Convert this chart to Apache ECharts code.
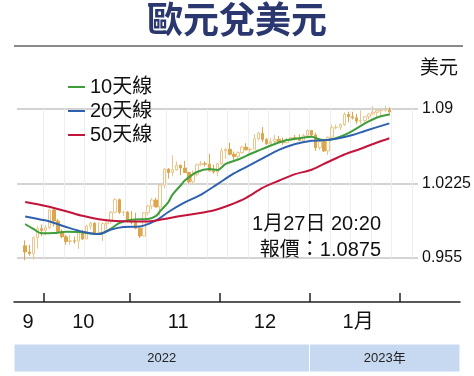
<!DOCTYPE html>
<html>
<head>
<meta charset="utf-8">
<script src="https://cdn.jsdelivr.net/npm/echarts@6/dist/echarts.min.js"></script>
<style>
  html, body { margin: 0; padding: 0; background: #fff; }
  #main { width: 474px; height: 376px; }
</style>
</head>
<body>
<div id="main"></div>
<script>
// 交易日（2022-09-26 ~ 2023-01-27）
const dates = [
  '09-26','09-27','09-28','09-29','09-30',
  '10-03','10-04','10-05','10-06','10-07','10-10','10-11','10-12','10-13','10-14',
  '10-17','10-18','10-19','10-20','10-21','10-24','10-25','10-26','10-27','10-28','10-31',
  '11-01','11-02','11-03','11-04','11-07','11-08','11-09','11-10','11-11','11-14','11-15',
  '11-16','11-17','11-18','11-21','11-22','11-23','11-24','11-25','11-28','11-29','11-30',
  '12-01','12-02','12-05','12-06','12-07','12-08','12-09','12-12','12-13','12-14','12-15',
  '12-16','12-19','12-20','12-21','12-22','12-23','12-26','12-27','12-28','12-29','12-30',
  '01-02','01-03','01-04','01-05','01-06','01-09','01-10','01-11','01-12','01-13',
  '01-16','01-17','01-18','01-19','01-20','01-23','01-24','01-25','01-26','01-27'
];
const opens = [
  0.9660,0.9605,0.9590,0.9735,0.9815,
  0.9800,0.9825,0.9985,0.9885,0.9790,0.9742,0.9700,0.9706,0.9703,0.9779,
  0.9722,0.9838,0.9865,0.9772,0.9781,0.9861,0.9878,0.9964,1.0078,0.9964,0.9966,
  0.9882,0.9875,0.9820,0.9750,0.9960,1.0020,1.0075,1.0012,1.0210,1.0355,1.0325,
  1.0350,1.0390,1.0365,1.0325,1.0240,1.0305,1.0395,1.0405,1.0400,1.0340,1.0330,
  1.0405,1.0520,1.0535,1.0490,1.0470,1.0505,1.0555,1.0530,1.0535,1.0630,1.0680,
  1.0625,1.0585,1.0605,1.0625,1.0605,1.0595,1.0615,1.0640,1.0638,1.0615,1.0660,
  1.0705,1.0665,1.0550,1.0605,1.0520,1.0645,1.0730,1.0735,1.0760,1.0850,
  1.0830,1.0820,1.0790,1.0795,1.0830,1.0855,1.0870,1.0885,1.0890,1.0890
];
const highs = [
  0.9710,0.9670,0.9748,0.9837,0.9854,
  0.9850,0.9999,0.9998,0.9905,0.9810,0.9760,0.9760,0.9745,0.9809,0.9806,
  0.9852,0.9875,0.9875,0.9875,0.9872,0.9905,0.9976,1.0093,1.0088,0.9980,0.9975,
  0.9975,0.9960,0.9830,0.9966,1.0033,1.0095,1.0095,1.0222,1.0365,1.0365,1.0481,
  1.0425,1.0395,1.0430,1.0330,1.0345,1.0405,1.0430,1.0425,1.0495,1.0395,1.0410,
  1.0545,1.0545,1.0595,1.0515,1.0515,1.0565,1.0590,1.0550,1.0673,1.0695,1.0736,
  1.0635,1.0640,1.0665,1.0655,1.0640,1.0640,1.0645,1.0665,1.0670,1.0675,1.0715,
  1.0710,1.0685,1.0635,1.0620,1.0650,1.0760,1.0760,1.0770,1.0870,1.0875,
  1.0875,1.0855,1.0887,1.0835,1.0860,1.0925,1.0890,1.0905,1.0930,1.0915
];
const lows = [
  0.9530,0.9570,0.9536,0.9635,0.9749,
  0.9755,0.9810,0.9835,0.9785,0.9730,0.9670,0.9670,0.9680,0.9632,0.9712,
  0.9720,0.9808,0.9760,0.9760,0.9705,0.9808,0.9862,0.9958,0.9950,0.9930,0.9870,
  0.9855,0.9810,0.9730,0.9747,0.9935,0.9990,1.0010,0.9935,1.0180,1.0270,1.0290,
  1.0340,1.0300,1.0320,1.0225,1.0230,1.0290,1.0385,1.0380,1.0335,1.0315,1.0290,
  1.0395,1.0450,1.0480,1.0440,1.0445,1.0495,1.0525,1.0505,1.0535,1.0615,1.0600,
  1.0575,1.0580,1.0570,1.0600,1.0575,1.0590,1.0610,1.0615,1.0610,1.0615,1.0655,
  1.0650,1.0520,1.0530,1.0510,1.0484,1.0640,1.0715,1.0710,1.0745,1.0780,
  1.0805,1.0765,1.0765,1.0780,1.0805,1.0850,1.0830,1.0835,1.0875,1.0840
];
const closes = [
  0.9605,0.9590,0.9735,0.9815,0.9800,
  0.9825,0.9985,0.9885,0.9790,0.9742,0.9700,0.9706,0.9703,0.9779,0.9722,
  0.9838,0.9865,0.9772,0.9781,0.9861,0.9878,0.9964,1.0078,0.9964,0.9966,0.9882,
  0.9875,0.9820,0.9750,0.9960,1.0020,1.0075,1.0012,1.0210,1.0355,1.0325,1.0350,
  1.0390,1.0365,1.0325,1.0240,1.0305,1.0395,1.0405,1.0400,1.0340,1.0330,1.0405,
  1.0520,1.0535,1.0490,1.0470,1.0505,1.0555,1.0530,1.0535,1.0630,1.0680,1.0625,
  1.0585,1.0605,1.0625,1.0605,1.0595,1.0615,1.0640,1.0638,1.0615,1.0660,1.0705,
  1.0665,1.0550,1.0605,1.0520,1.0645,1.0730,1.0735,1.0760,1.0850,1.0830,
  1.0820,1.0790,1.0795,1.0830,1.0855,1.0870,1.0885,1.0890,1.0890,1.0875
];

// 移動平均線（交易日序號, 數值）
const ma10Day = [0,2,4,7,10,13,16,18,21,23,26,30,32,33,35,36,38,39,42,45,47,49,52,55,57,61,64,67,70,72,74,77,80,83,86,89];
const ma10 = [0.9858,0.9813,0.9774,0.9776,0.9788,0.9786,0.9772,0.9767,0.9817,0.9867,0.9897,0.9903,0.9931,0.9976,1.0057,1.0125,1.0207,1.0252,1.0329,1.0356,1.0347,1.0402,1.0442,1.0492,1.0524,1.0583,1.0619,1.0635,1.0649,1.0624,1.0619,1.0649,1.0702,1.0769,1.0823,1.0850];
const ma20Day = [0,4,6,10,14,18,21,24,28,32,35,39,43,47,51,55,58,62,66,70,73,76,80,83,89];
const ma20 = [0.9926,0.9897,0.9881,0.9831,0.9788,0.9767,0.9808,0.9831,0.9835,0.9890,0.9967,1.0053,1.0125,1.0220,1.0316,1.0393,1.0452,1.0529,1.0583,1.0612,1.0617,1.0631,1.0664,1.0701,1.0770];
const ma50Day = [0,5,10,14,18,22,26,30,34,38,42,46,50,54,58,62,66,70,74,78,82,86,89];
const ma50 = [1.0057,1.0021,0.9974,0.9932,0.9901,0.9885,0.9881,0.9881,0.9903,0.9931,0.9953,0.9980,1.0030,1.0095,1.0185,1.0250,1.0310,1.0350,1.0420,1.0488,1.0540,1.0596,1.0635];

const priceTicks = [0.955, 1.0225, 1.09];
const priceLabels = ['0.955', '1.0225', '1.09'];
const monthEdges = [4.5, 25.5, 47.5, 69.5, 91.5];     // 月份分界
const monthLabelAt = [0.7, 14.2, 37.4, 58.6, 81.4];
const monthLabels = ['9', '10', '11', '12', '1月'];
const years = ['2022', '2023年'];
const yearEdges = [-2.75, 69.5, 106.3];

const weekEdges = [];
for (let k = 4.5; k < 96; k += 5) weekEdges.push(k);

const FONT = "'Liberation Sans','Noto Sans CJK TC',sans-serif";
const chart = echarts.init(document.getElementById('main'));

const candles = dates.map((d, i) => [i, opens[i], closes[i], lows[i], highs[i]]);
const pairs = (xs, ys) => xs.map((x, i) => [x, ys[i]]);

const option = {
  animation: false,
  textStyle: { fontFamily: FONT },
  title: {
    text: '歐元兌美元',
    left: 'center',
    top: -4,
    textStyle: { fontSize: 36, fontWeight: 'bold', color: '#2b3870', fontFamily: "'Noto Sans CJK TC',sans-serif" }
  },
  legend: {
    orient: 'vertical',
    left: 68,
    top: 77,
    padding: 0,
    icon: 'rect',
    itemWidth: 17,
    itemHeight: 2,
    itemGap: 4,
    textStyle: { fontSize: 20, color: '#111' },
    data: ['10天線', '20天線', '50天線']
  },
  grid: [
    { left: 17, right: 56, top: 109, bottom: 118 },
    { left: 14, width: 446, top: 301, height: 1 },
    { left: 14, width: 446, top: 344, height: 28 }
  ],
  xAxis: [
    {
      gridIndex: 0, type: 'value', min: -2, max: 96,
      axisLine: { show: false, onZero: false },
      axisLabel: { show: false },
      axisTick: { show: false, customValues: weekEdges },
      splitLine: { show: true, lineStyle: { color: '#eeeeee', width: 1 } }
    },
    {
      gridIndex: 1, type: 'value', min: -2.75, max: 106.3, position: 'bottom',
      axisLine: { onZero: false, lineStyle: { color: '#222', width: 1.5 } },
      axisTick: { inside: true, length: 9, customValues: monthEdges, lineStyle: { color: '#222', width: 1.5 } },
      axisLabel: {
        customValues: monthLabelAt,
        formatter: v => monthLabels[monthLabelAt.findIndex(p => Math.abs(p - v) < 1e-6)],
        fontSize: 20, color: '#111', margin: 10
      },
      splitLine: { show: false }
    },
    { gridIndex: 2, type: 'value', min: -2.75, max: 106.3, show: false }
  ],
  yAxis: [
    {
      gridIndex: 0, type: 'value', position: 'right', min: 0.955, max: 1.09,
      name: '美元', nameLocation: 'end', nameGap: 40,
      nameTextStyle: { fontSize: 19, color: '#111', align: 'left', verticalAlign: 'middle', padding: [0, 0, 0, 2] },
      axisLine: { show: false, onZero: false },
      axisTick: { show: false, customValues: priceTicks },
      axisLabel: {
        customValues: priceTicks,
        formatter: v => priceLabels[priceTicks.findIndex(p => Math.abs(p - v) < 1e-6)],
        fontSize: 16, color: '#111', margin: 4
      },
      splitLine: { show: true, lineStyle: { color: '#c4c4c4', width: 1.5 } }
    },
    { gridIndex: 1, type: 'value', min: 0, max: 1, show: false },
    { gridIndex: 2, type: 'value', min: 0, max: 1, show: false }
  ],
  series: [
    {
      type: 'candlestick', xAxisIndex: 0, yAxisIndex: 0,
      data: candles, barWidth: 3, clip: false,
      itemStyle: { color: '#ffffff', color0: '#dca64d', borderColor: '#ebc58a', borderColor0: '#dca64d', borderWidth: 1 }
    },
    { name: '10天線', type: 'line', data: pairs(ma10Day, ma10), symbol: 'none', smooth: 0.3, color: '#3f9d3c', lineStyle: { width: 2 } },
    { name: '20天線', type: 'line', data: pairs(ma20Day, ma20), symbol: 'none', smooth: 0.3, color: '#2f62ae', lineStyle: { width: 2 } },
    { name: '50天線', type: 'line', data: pairs(ma50Day, ma50), symbol: 'none', smooth: 0.3, color: '#c3143b', lineStyle: { width: 2 } },
    {
      type: 'line', xAxisIndex: 2, yAxisIndex: 2, data: [], silent: true,
      markArea: {
        silent: true,
        itemStyle: { color: '#c6d9f0', borderColor: '#fff', borderWidth: 1 },
        label: { position: 'inside', color: '#222', fontSize: 13 },
        data: years.map((y, i) => [{ name: y, xAxis: yearEdges[i] }, { xAxis: yearEdges[i + 1] }])
      }
    }
  ],
  graphic: [
    { type: 'line', z: 100, shape: { x1: 14, y1: 46, x2: 463, y2: 46 }, style: { stroke: '#8a8a8a', lineWidth: 2 } },
    { type: 'text', z: 100, x: 381, y: 224, style: { text: '1月27日 20:20', font: "20px " + FONT, fill: '#111', textAlign: 'right', textVerticalAlign: 'middle' } },
    { type: 'text', z: 100, x: 381, y: 250, style: { text: '報價：1.0875', font: "20px " + FONT, fill: '#111', textAlign: 'right', textVerticalAlign: 'middle' } }
  ]
};

chart.setOption(option);
</script>
</body>
</html>
